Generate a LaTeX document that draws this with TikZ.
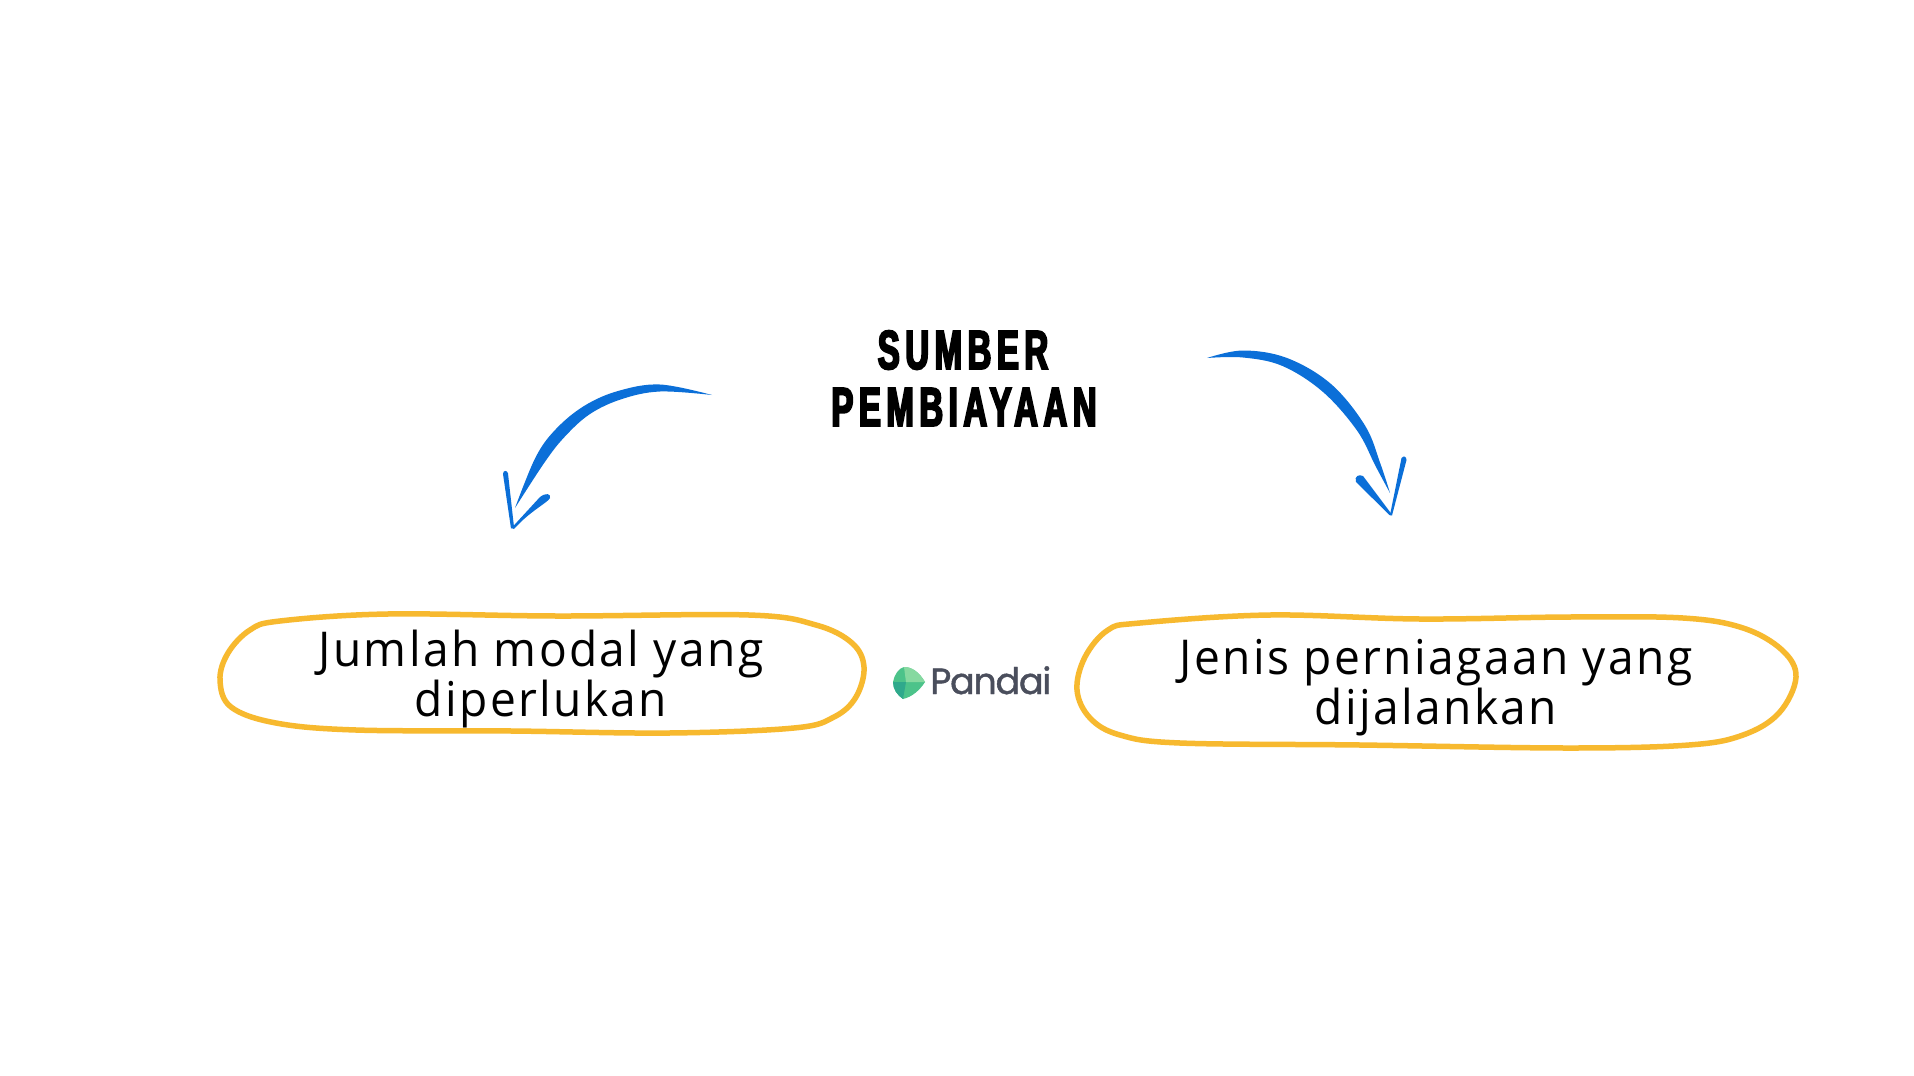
\documentclass[tikz,border=0pt]{standalone}
\usepackage{fontspec}
\setmainfont{Open Sans}
\newfontfamily\bodyfont[LetterSpace=5,FakeStretch=0.96]{Open Sans}
\newfontfamily\titlefont[LetterSpace=10,FakeStretch=0.6,FakeBold=3.5]{Liberation Sans Bold}
\newfontfamily\logofont[LetterSpace=-3.5,FakeBold=1.2]{Poppins}
\definecolor{ringyellow}{HTML}{F7B92F}
\definecolor{arrowblue}{HTML}{0B6FD8}
\definecolor{logogrey}{HTML}{4A4E5C}
\definecolor{leafa}{HTML}{4CC38A}
\definecolor{leafb}{HTML}{2FA98C}
\definecolor{leafc}{HTML}{86D9A0}
\tikzset{
  ring/.style={draw=ringyellow,line width=5.5pt,line join=round},
  inkarrow/.style={fill=arrowblue,draw=none},
  bodytext/.style={font=\bodyfont\fontsize{48}{50}\selectfont,align=center,text=black,inner sep=0pt,anchor=base},
  titletext/.style={font=\titlefont\fontsize{55}{57}\selectfont,align=center,text=black,inner sep=0pt,anchor=base},
}
\begin{document}
\begin{tikzpicture}[x=1pt,y=-1pt]
\useasboundingbox (0,0) rectangle (1914,1076);
\fill[white] (0,0) rectangle (1914,1076);
% rings
\draw[ring] plot[smooth cycle,tension=0.6] coordinates {(280,621)(387.5,614)(557,616)(749,615)(816,625)(852,643)(864,667)(856,697)(834,717)(794,728)(669,733)(512,731)(356,730)(276,723)(231,707)(220,680)(228,653)(250,630)};
\draw[ring] plot[smooth cycle,tension=0.6] coordinates {(1140,623)(1270,615)(1420,619)(1569,617)(1683,618)(1743,628)(1782,650)(1796,677)(1779,713)(1743,735)(1689,745)(1569,748)(1360,745)(1180,743)(1120,735)(1090,718)(1077,690)(1085,657)(1108,630)};
% text
\node[bodytext] (modalA) at (541,666) {Jumlah modal yang};
\node[bodytext] (modalB) at (541,716) {diperlukan};
\node[bodytext] (jenisA) at (1436,674) {Jenis perniagaan yang};
\node[bodytext] (jenisB) at (1436,724) {dijalankan};
\node[titletext] (titleA) at (963,369) {SUMBER};
\node[titletext] (titleB) at (964,426) {PEMBIAYAAN};
% right arrow
\fill[inkarrow] plot[smooth,tension=0.6] coordinates {(1207,358)(1243,350.5)(1287,358)(1331,384)(1365,425.5)(1380.5,464)(1390,493)}
 -- plot[smooth,tension=0.6] coordinates {(1390,493)(1375.5,466)(1357,430.5)(1323,392)(1282.5,366)(1243,357.5)(1207,358)} -- cycle;
\fill[inkarrow] (1390,515) -- (1401.5,458) .. controls (1404,455) and (1406.5,457) .. (1406.5,460) -- (1392,515.5) -- cycle;
\fill[inkarrow] (1390,515.5) -- (1356,482) .. controls (1354,476) and (1359,474) .. (1363,476) -- (1391.5,514) -- cycle;
% left arrow
\fill[inkarrow] plot[smooth,tension=0.6] coordinates {(712,395)(660,384.5)(618,391)(584,406)(555.5,429.5)(535.5,457.5)(515,508)}
 -- plot[smooth,tension=0.6] coordinates {(515,508)(544.5,462.5)(564.5,437)(590,414)(622,399)(660,391.5)(712,395)} -- cycle;
\fill[inkarrow] (511,528.5) -- (503,474) .. controls (503,470) and (507.5,470) .. (508,473.5) -- (514,527) -- cycle;
\fill[inkarrow] (511.5,528) -- (540,497) .. controls (546,492.5) and (551,493.5) .. (550,498) .. controls (548,502.5) and (530,511) .. (514,529) -- cycle;
% logo
\fill[leafa] (893,682) .. controls (894,675) and (899,668) .. (904,667) .. controls (912,667) and (919,672) .. (925,682) .. controls (920,690) and (912,697) .. (903,699) .. controls (897,695) and (893,689) .. (893,682) -- cycle;
\fill[leafc] (904,667) .. controls (912,667) and (919,672) .. (925,682) -- (906,682) -- cycle;
\fill[leafb] (893,682) .. controls (893,689) and (897,695) .. (903,699) -- (906,682) -- cycle;
\node[font=\logofont\fontsize{36.5}{37}\selectfont,text=logogrey,inner sep=0pt,anchor=base west] (logo) at (930,694) {Pandai};
\end{tikzpicture}
\end{document}
